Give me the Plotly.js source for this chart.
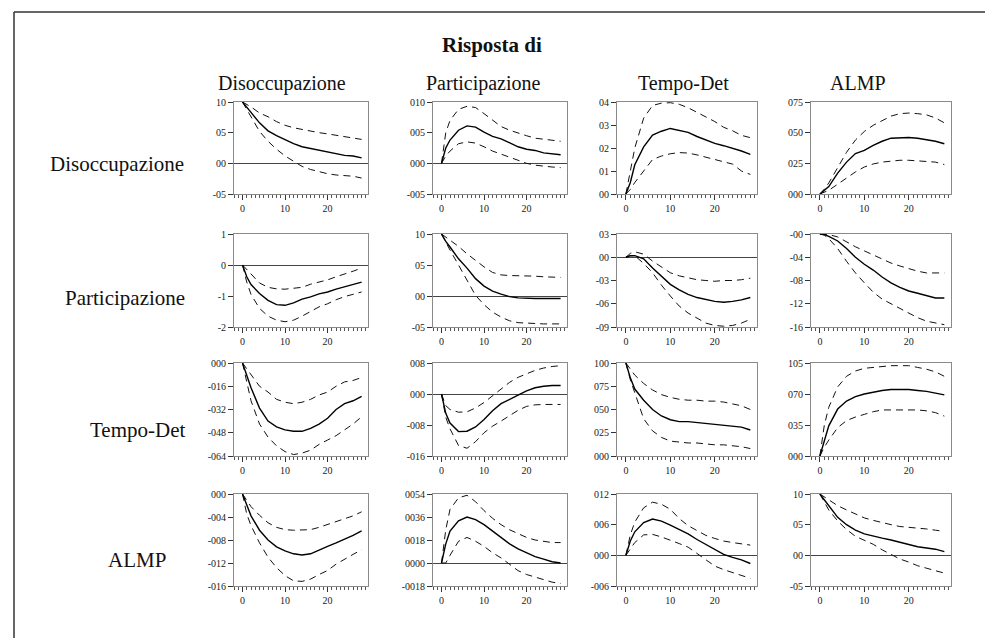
<!DOCTYPE html>
<html>
<head>
<meta charset="utf-8">
<script src="https://cdn.plot.ly/plotly-3.0.1.min.js"></script>
<style>html,body{margin:0;padding:0;background:#fff;overflow:hidden;}#chart{width:985px;height:638px;}</style>
</head>
<body>
<div id="chart"></div>
<script>
// Horizon (periods) at which values were read
const periods = [0,1,2,4,6,8,10,12,14,16,18,20,22,24,26,28];

const shockNames = ["Disoccupazione", "Participazione", "Tempo-Det", "ALMP"]; // column headers
const responseNames = ["Disoccupazione", "Participazione", "Tempo-Det", "ALMP"]; // row labels
const chartTitle = "Risposta di";

// Row 1
const r1c1_mid = [1.0,0.92,0.83,0.66,0.53,0.45,0.38,0.32,0.27,0.24,0.21,0.19,0.16,0.13,0.12,0.09];
const r1c1_up  = [1.0,0.96,0.92,0.82,0.76,0.68,0.62,0.58,0.55,0.52,0.50,0.48,0.46,0.43,0.42,0.39];
const r1c1_lo  = [1.0,0.88,0.76,0.52,0.36,0.23,0.12,0.03,-0.05,-0.10,-0.14,-0.17,-0.19,-0.20,-0.21,-0.24];
const r1c2_mid = [0,0.025,0.038,0.054,0.061,0.059,0.051,0.044,0.040,0.034,0.027,0.023,0.021,0.017,0.015,0.014];
const r1c2_up  = [0,0.05,0.07,0.088,0.093,0.091,0.081,0.070,0.060,0.054,0.049,0.045,0.041,0.039,0.037,0.036];
const r1c2_lo  = [0,0.012,0.02,0.032,0.035,0.033,0.027,0.020,0.015,0.010,0.004,0.000,-0.003,-0.005,-0.006,-0.007];
const r1c3_mid = [0,0.05,0.127,0.205,0.256,0.273,0.285,0.278,0.268,0.25,0.236,0.22,0.21,0.2,0.187,0.172];
const r1c3_up  = [0,0.1,0.2,0.33,0.385,0.395,0.397,0.39,0.375,0.355,0.335,0.315,0.29,0.275,0.255,0.245];
const r1c3_lo  = [0,0.02,0.05,0.1,0.15,0.165,0.175,0.18,0.178,0.17,0.16,0.15,0.14,0.13,0.1,0.085];
const r1c4_mid = [0,0.03,0.06,0.17,0.26,0.33,0.356,0.396,0.43,0.455,0.46,0.46,0.455,0.445,0.43,0.41];
const r1c4_up  = [0,0.04,0.09,0.22,0.34,0.44,0.51,0.56,0.6,0.635,0.655,0.66,0.655,0.645,0.62,0.58];
const r1c4_lo  = [0,0.015,0.03,0.08,0.13,0.18,0.22,0.245,0.26,0.27,0.275,0.275,0.27,0.265,0.26,0.24];
// Row 2
const r2c1_mid = [0,-0.38,-0.63,-0.92,-1.14,-1.28,-1.3,-1.22,-1.1,-1.03,-0.93,-0.87,-0.78,-0.70,-0.63,-0.55];
const r2c1_up  = [0,-0.15,-0.3,-0.58,-0.72,-0.77,-0.78,-0.76,-0.72,-0.62,-0.55,-0.48,-0.38,-0.3,-0.2,-0.1];
const r2c1_lo  = [0,-0.55,-0.95,-1.4,-1.65,-1.78,-1.83,-1.78,-1.65,-1.5,-1.35,-1.25,-1.12,-1.02,-0.95,-0.87];
const r2c2_mid = [1.0,0.88,0.79,0.6,0.45,0.28,0.16,0.08,0.03,-0.01,-0.03,-0.04,-0.04,-0.04,-0.04,-0.04];
const r2c2_up  = [1.0,0.95,0.9,0.8,0.68,0.57,0.47,0.38,0.34,0.33,0.33,0.33,0.32,0.31,0.30,0.30];
const r2c2_lo  = [1.0,0.86,0.74,0.5,0.26,0.01,-0.14,-0.26,-0.34,-0.4,-0.43,-0.44,-0.45,-0.45,-0.45,-0.45];
const r2c3_mid = [0,0.02,0.02,-0.02,-0.14,-0.25,-0.35,-0.42,-0.48,-0.52,-0.55,-0.57,-0.58,-0.57,-0.55,-0.52];
const r2c3_up  = [0,0.05,0.07,0.04,-0.05,-0.13,-0.2,-0.24,-0.27,-0.29,-0.3,-0.31,-0.3,-0.3,-0.29,-0.27];
const r2c3_lo  = [0,0.02,0.02,-0.08,-0.2,-0.36,-0.5,-0.63,-0.72,-0.79,-0.85,-0.88,-0.89,-0.88,-0.85,-0.8];
const r2c4_mid = [0,-0.01,-0.04,-0.12,-0.25,-0.4,-0.52,-0.62,-0.74,-0.84,-0.92,-0.98,-1.02,-1.06,-1.1,-1.1];
const r2c4_up  = [0,0,-0.01,-0.05,-0.14,-0.22,-0.29,-0.36,-0.43,-0.5,-0.55,-0.6,-0.64,-0.67,-0.67,-0.67];
const r2c4_lo  = [0,-0.02,-0.08,-0.25,-0.47,-0.67,-0.84,-1.0,-1.12,-1.2,-1.27,-1.35,-1.44,-1.5,-1.53,-1.56];
// Row 3
const r3c1_mid = [0,-0.09,-0.17,-0.31,-0.4,-0.44,-0.46,-0.47,-0.47,-0.45,-0.42,-0.38,-0.32,-0.28,-0.26,-0.23];
const r3c1_up  = [0,-0.04,-0.08,-0.16,-0.2,-0.25,-0.27,-0.28,-0.27,-0.25,-0.22,-0.2,-0.16,-0.13,-0.12,-0.1];
const r3c1_lo  = [0,-0.13,-0.26,-0.42,-0.51,-0.57,-0.61,-0.63,-0.62,-0.6,-0.56,-0.53,-0.5,-0.46,-0.42,-0.37];
const r3c2_mid = [0,-0.05,-0.075,-0.097,-0.096,-0.085,-0.066,-0.043,-0.025,-0.013,-0.003,0.008,0.016,0.02,0.022,0.022];
const r3c2_up  = [0,-0.03,-0.04,-0.047,-0.046,-0.036,-0.022,-0.004,0.013,0.03,0.043,0.053,0.061,0.067,0.071,0.073];
const r3c2_lo  = [0,-0.06,-0.09,-0.133,-0.14,-0.123,-0.1,-0.083,-0.07,-0.055,-0.042,-0.032,-0.028,-0.027,-0.027,-0.027];
const r3c3_mid = [1.0,0.84,0.72,0.6,0.5,0.43,0.39,0.37,0.37,0.36,0.35,0.34,0.33,0.32,0.31,0.28];
const r3c3_up  = [1.0,0.93,0.87,0.78,0.71,0.66,0.63,0.61,0.6,0.6,0.59,0.59,0.58,0.56,0.54,0.5];
const r3c3_lo  = [1.0,0.82,0.68,0.4,0.27,0.2,0.16,0.15,0.14,0.14,0.13,0.12,0.12,0.11,0.1,0.08];
const r3c4_mid = [0,0.18,0.34,0.53,0.62,0.67,0.7,0.72,0.74,0.75,0.75,0.75,0.74,0.73,0.71,0.69];
const r3c4_up  = [0,0.35,0.55,0.78,0.9,0.96,0.99,1.0,1.01,1.02,1.02,1.02,1.0,0.98,0.95,0.9];
const r3c4_lo  = [0,0.1,0.18,0.32,0.4,0.44,0.47,0.5,0.52,0.52,0.52,0.52,0.52,0.51,0.49,0.45];
// Row 4
const r4c1_mid = [0,-0.02,-0.038,-0.063,-0.08,-0.092,-0.099,-0.104,-0.106,-0.104,-0.097,-0.091,-0.085,-0.079,-0.072,-0.064];
const r4c1_up  = [0,-0.01,-0.022,-0.037,-0.05,-0.058,-0.062,-0.063,-0.063,-0.062,-0.058,-0.053,-0.049,-0.044,-0.038,-0.031];
const r4c1_lo  = [0,-0.035,-0.055,-0.085,-0.11,-0.128,-0.142,-0.151,-0.152,-0.148,-0.14,-0.133,-0.122,-0.113,-0.105,-0.097];
const r4c2_mid = [0,0.015,0.025,0.033,0.036,0.034,0.03,0.025,0.02,0.015,0.011,0.008,0.005,0.003,0.001,0.0];
const r4c2_up  = [0,0.026,0.042,0.051,0.053,0.048,0.041,0.035,0.03,0.026,0.023,0.02,0.018,0.017,0.016,0.016];
const r4c2_lo  = [0,0.0,0.006,0.017,0.02,0.017,0.013,0.008,0.004,-0.001,-0.006,-0.009,-0.011,-0.013,-0.015,-0.016];
const r4c3_mid = [0,0.028,0.046,0.064,0.071,0.067,0.059,0.051,0.042,0.031,0.021,0.011,0.002,-0.004,-0.009,-0.016];
const r4c3_up  = [0,0.04,0.065,0.093,0.104,0.1,0.09,0.072,0.058,0.048,0.039,0.033,0.028,0.025,0.022,0.02];
const r4c3_lo  = [0,0.012,0.025,0.04,0.041,0.036,0.03,0.023,0.016,0.004,-0.009,-0.021,-0.028,-0.034,-0.04,-0.045];
const r4c4_mid = [1.0,0.9,0.8,0.62,0.5,0.41,0.35,0.31,0.28,0.25,0.21,0.18,0.14,0.12,0.1,0.06];
const r4c4_up  = [1.0,0.95,0.9,0.81,0.74,0.67,0.61,0.57,0.53,0.5,0.47,0.46,0.45,0.43,0.41,0.39];
const r4c4_lo  = [1.0,0.86,0.74,0.56,0.42,0.31,0.24,0.18,0.09,0.01,-0.06,-0.11,-0.17,-0.21,-0.25,-0.29];

// Y-axis tick values and labels, as printed in the original
const yTickVals = [
  [1,0.5,0,-0.5],[0.1,0.05,0,-0.05],[0.4,0.3,0.2,0.1,0],[0.75,0.5,0.25,0],
  [1,0,-1,-2],[1,0.5,0,-0.5],[0.3,0,-0.3,-0.6,-0.9],[0,-0.4,-0.8,-1.2,-1.6],
  [0,-0.16,-0.32,-0.48,-0.64],[0.08,0,-0.08,-0.16],[1,0.75,0.5,0.25,0],[1.05,0.7,0.35,0],
  [0,-0.04,-0.08,-0.12,-0.16],[0.054,0.036,0.018,0,-0.018],[0.12,0.06,0,-0.06],[1,0.5,0,-0.5]
];
const yTickText = [
  ["10","05","00","-05"],["010","005","000","-005"],["04","03","02","01","00"],["075","050","025","000"],
  ["1","0","-1","-2"],["10","05","00","-05"],["03","00","-03","-06","-09"],["-00","-04","-08","-12","-16"],
  ["000","-016","-032","-048","-064"],["008","000","-008","-016"],["100","075","050","025","000"],["105","070","035","000"],
  ["000","-004","-008","-012","-016"],["0054","0036","0018","0000","-0018"],["012","006","000","-006"],["10","05","00","-05"]
];
const xTickVals = [0,10,20];

const mids = [r1c1_mid,r1c2_mid,r1c3_mid,r1c4_mid,r2c1_mid,r2c2_mid,r2c3_mid,r2c4_mid,r3c1_mid,r3c2_mid,r3c3_mid,r3c4_mid,r4c1_mid,r4c2_mid,r4c3_mid,r4c4_mid];
const ups  = [r1c1_up,r1c2_up,r1c3_up,r1c4_up,r2c1_up,r2c2_up,r2c3_up,r2c4_up,r3c1_up,r3c2_up,r3c3_up,r3c4_up,r4c1_up,r4c2_up,r4c3_up,r4c4_up];
const los  = [r1c1_lo,r1c2_lo,r1c3_lo,r1c4_lo,r2c1_lo,r2c2_lo,r2c3_lo,r2c4_lo,r3c1_lo,r3c2_lo,r3c3_lo,r3c4_lo,r4c1_lo,r4c2_lo,r4c3_lo,r4c4_lo];

const W = 985, H = 638;
const colPx = [[234,368],[433,567],[617,757],[811,951]];
const rowPx = [[102,194],[234,327],[363,456],[494,586]];
const FONT = "Liberation Serif, Times New Roman, serif";

const traces = [];
const layout = {
  width: W, height: H,
  margin: {l:0, r:0, t:0, b:0},
  paper_bgcolor: "#fff", plot_bgcolor: "#fff",
  showlegend: false,
  font: {family: FONT, color: "#111", size: 10},
  annotations: [], shapes: []
};

for (let i = 0; i < 16; i++) {
  const r = Math.floor(i / 4), c = i % 4;
  const n = i + 1;
  const xa = "x" + (n === 1 ? "" : n), ya = "y" + (n === 1 ? "" : n);
  const xk = "xaxis" + (n === 1 ? "" : n), yk = "yaxis" + (n === 1 ? "" : n);
  const tv = yTickVals[i];
  const ymin = Math.min(...tv), ymax = Math.max(...tv);
  const zeroInside = ymin < 0 && ymax > 0;
  layout[xk] = {
    domain: [colPx[c][0] / W, colPx[c][1] / W], anchor: ya,
    range: [-2, 29.5], tickmode: "array", tickvals: xTickVals,
    ticks: "outside", ticklen: 5, tickcolor: "#333", tickwidth: 1,
    minor: {ticks: "outside", tickmode: "linear", tick0: 0, dtick: 1, ticklen: 3, tickcolor: "#555", showgrid: false},
    showline: true, mirror: true, linecolor: "#8a8a8a", linewidth: 1,
    showgrid: false, zeroline: false,
    tickfont: {family: FONT, size: 10, color: "#222"}, fixedrange: true
  };
  layout[yk] = {
    domain: [1 - rowPx[r][1] / H, 1 - rowPx[r][0] / H], anchor: xa,
    range: [ymin, ymax], tickmode: "array", tickvals: tv, ticktext: yTickText[i],
    ticks: "outside", ticklen: 5, tickcolor: "#333", tickwidth: 1,
    showline: true, mirror: true, linecolor: "#8a8a8a", linewidth: 1,
    showgrid: false, zeroline: zeroInside, zerolinecolor: "#444", zerolinewidth: 1,
    tickfont: {family: FONT, size: 10, color: "#222"}, fixedrange: true
  };
  traces.push({x: periods, y: ups[i], xaxis: xa, yaxis: ya, type: "scatter", mode: "lines",
    line: {color: "#111", width: 1, dash: "7px,5px"}, hoverinfo: "skip", cliponaxis: true});
  traces.push({x: periods, y: los[i], xaxis: xa, yaxis: ya, type: "scatter", mode: "lines",
    line: {color: "#111", width: 1, dash: "7px,5px"}, hoverinfo: "skip", cliponaxis: true});
  traces.push({x: periods, y: mids[i], xaxis: xa, yaxis: ya, type: "scatter", mode: "lines",
    line: {color: "#000", width: 1.4}, hoverinfo: "skip", cliponaxis: true});
}

// Title
layout.annotations.push({text: "<b>" + chartTitle + "</b>", xref: "paper", yref: "paper",
  x: 492 / W, y: 1 - 45 / H, xanchor: "center", yanchor: "middle", showarrow: false,
  font: {family: FONT, size: 21, color: "#111"}});
// Column headers
const headerX = [282, 483, 683, 858];
shockNames.forEach((s, k) => layout.annotations.push({text: s, xref: "paper", yref: "paper",
  x: headerX[k] / W, y: 1 - 83 / H, xanchor: "center", yanchor: "middle", showarrow: false,
  font: {family: FONT, size: 20, color: "#111"}}));
// Row labels
const rowLabelX = [117, 125, 137, 137];
const rowLabelY = [164, 298, 430, 560];
responseNames.forEach((s, k) => layout.annotations.push({text: s, xref: "paper", yref: "paper",
  x: rowLabelX[k] / W, y: 1 - rowLabelY[k] / H, xanchor: "center", yanchor: "middle", showarrow: false,
  font: {family: FONT, size: 21, color: "#111"}}));

// Outer frame: only the top and left edges fall inside the picture
layout.shapes.push({type: "line", xref: "paper", yref: "paper",
  x0: 14 / W, x1: 14 / W, y0: 0, y1: 1 - 12 / H, line: {color: "#333", width: 1.5}});
layout.shapes.push({type: "line", xref: "paper", yref: "paper",
  x0: 14 / W, x1: 1, y0: 1 - 12 / H, y1: 1 - 12 / H, line: {color: "#333", width: 1.5}});

Plotly.newPlot("chart", traces, layout, {staticPlot: true, displayModeBar: false});
</script>
</body>
</html>
